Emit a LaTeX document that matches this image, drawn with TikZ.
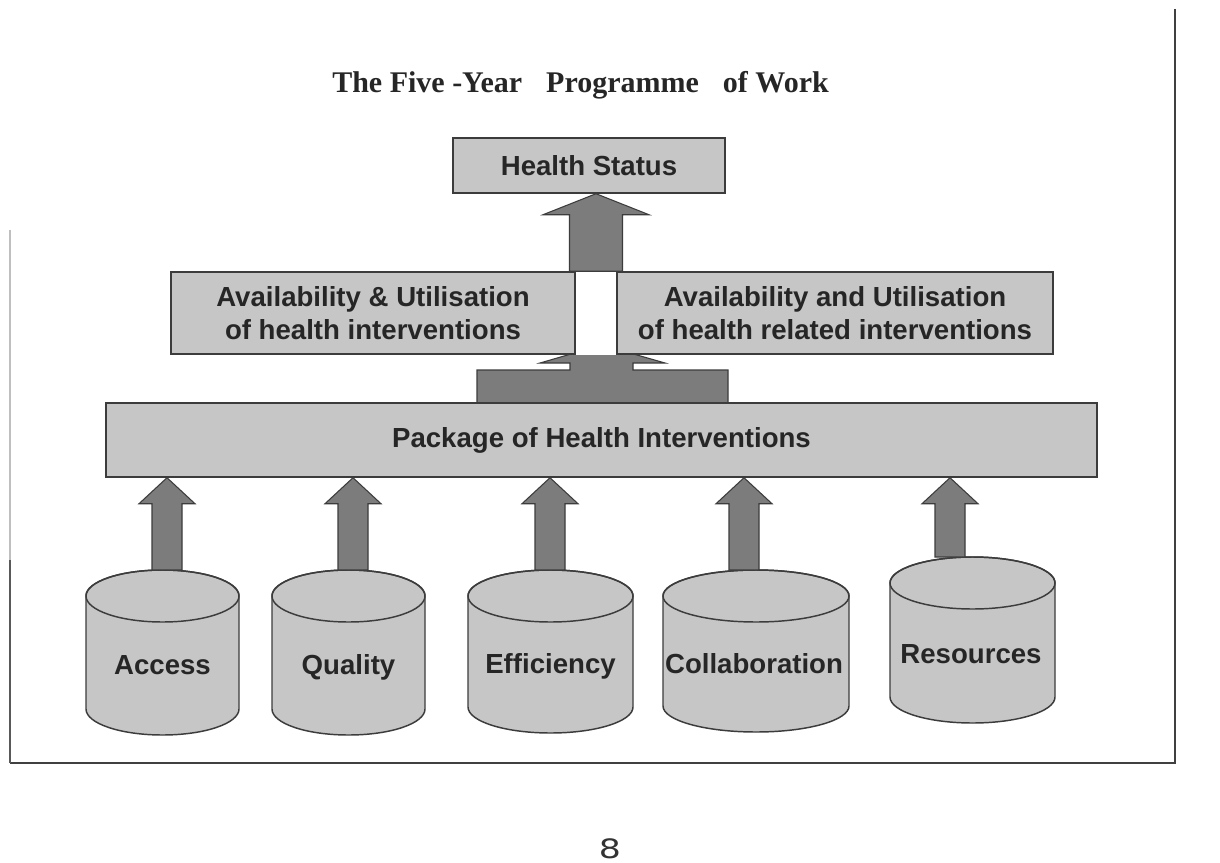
\documentclass[tikz,border=0pt]{standalone}
\usepackage{fontspec}
\setmainfont{Liberation Serif}
\newfontfamily\arialf{Liberation Sans}
\newfontfamily\dejavuf{DejaVu Sans}
\usetikzlibrary{calc}
\pgfdeclarelayer{bg}
\pgfsetlayers{bg,main}
\definecolor{boxc}{HTML}{C6C6C6}
\definecolor{arrc}{HTML}{7C7C7C}
\definecolor{edgec}{HTML}{3C3C3C}
\definecolor{txtc}{HTML}{262626}
% vertical block arrow: #1 bottom coord, #2 tip coord, #3 half shaft (px), #4 half head (px), #5 head length (px)
\newcommand\vblockarrow[5]{%
  \filldraw[arrowst] let \p1=(#1), \p2=(#2) in
    (\x1-#3*0.75pt,\y1) -- (\x1-#3*0.75pt,\y2-#5*0.75pt) -- (\x1-#4*0.75pt,\y2-#5*0.75pt)
    -- (\x1,\y2) -- (\x1+#4*0.75pt,\y2-#5*0.75pt) -- (\x1+#3*0.75pt,\y2-#5*0.75pt)
    -- (\x1+#3*0.75pt,\y1) -- cycle;}
% cylinder: #1 xl, #2 xr, #3 top ellipse centre y, #4 bottom ellipse centre y, #5 ry (px)
\newcommand\cylshape[5]{%
  \pgfmathsetmacro\cylrx{(#2-#1)/2*0.75}%
  \pgfmathsetmacro\cylry{#5*0.75}%
  \pgfmathsetmacro\cylcx{(#1+#2)/2}%
  \draw[cyl] (#1,#3) -- (#1,#4) arc[start angle=180,end angle=360,x radius=\cylrx pt,y radius=\cylry pt]
    -- (#2,#3) arc[start angle=0,end angle=180,x radius=\cylrx pt,y radius=\cylry pt] -- cycle;
  \draw[cyl,fill=none] (\cylcx,#3) ellipse[x radius=\cylrx pt,y radius=\cylry pt];}
\begin{document}
\begin{tikzpicture}[x=0.75pt,y=-0.75pt,
  box/.style={draw=edgec, fill=boxc, line width=1.1pt, inner sep=0pt, align=center, text=txtc,
    font=\arialf\bfseries\fontsize{20.7}{24.5}\selectfont},
  pxsize/.style 2 args={minimum width=#1*0.75pt, minimum height=#2*0.75pt},
  lbl/.style={text=txtc, inner sep=0pt, anchor=base, font=\arialf\bfseries\fontsize{20.7}{24}\selectfont},
  cyl/.style={draw=edgec, fill=boxc, line width=1.1pt},
  arrowst/.style={draw=edgec, fill=arrc, line width=0.8pt, line join=miter},
  framest/.style={draw=black!75, line width=1.2pt}]
\useasboundingbox (0,0) rectangle (1220,863);
\begin{pgfonlayer}{bg}
\fill[white] (0,0) rectangle (1220,863);
\end{pgfonlayer}

% frame of the page
\draw[framest] (1175,9) -- (1175,763) -- (10,763);
\draw[draw=black!25, line width=1pt] (10,230) -- (10,560);
\draw[draw=black!65, line width=1.1pt] (10,560) -- (10,763);

% title
\node[font=\bfseries\fontsize{22.5}{27}\selectfont, anchor=base, text=txtc, inner sep=0pt] (title) at (580.5,93)
  {The Five -Year\hspace{0.8em}Programme\hspace{0.8em}of Work};

% boxes
\node[box, pxsize={272}{55}] (hs) at (589,165.5) {Health Status};
\node[box, pxsize={404}{82}] (avl) at (373,313) {Availability \& Utilisation\\of health interventions};
\node[box, pxsize={436}{82}] (avr) at (835,313) {Availability and Utilisation\\of health related interventions};
\node[box, pxsize={991}{74}] (pkg) at (601.5,440) {Package of Health Interventions};

% big arrows behind boxes
\begin{pgfonlayer}{bg}
  \filldraw[arrowst] (477,404) -- (477,370) -- (570,370) -- (570,363) -- (540,363) -- (602,345)
    -- (665,363) -- (633,363) -- (633,370) -- (728,370) -- (728,404) -- cycle;
  \fill[white] (avl.north east) rectangle (avr.south west);
  \coordinate (upb) at ($(avl.north east)!0.5!(avr.north west)$);
  \vblockarrow{upb}{hs.south -| upb}{26.5}{53}{21}
\end{pgfonlayer}

% cylinders
\cylshape{86}{239}{596}{709}{26}
\cylshape{272}{425}{596}{709}{26}
\cylshape{468}{633}{596}{707}{26}
\cylshape{663}{849}{596}{706}{26}
\cylshape{890}{1055}{583}{697}{26}

\node[lbl] (acc) at (162.5,674) {Access};
\node[lbl] (qua) at (348.5,674) {Quality};
\node[lbl] (eff) at (550.5,673) {Efficiency};
\node[lbl] (col) at (754,673) {Collaboration};
\node[lbl] (res) at (971,663) {Resources};

% small arrows from cylinders to package
\coordinate (ta) at (167,570);
\coordinate (tq) at (353,570);
\coordinate (te) at (550,570);
\coordinate (tc) at (744,570);
\coordinate (tr) at (950,557);
\vblockarrow{ta}{pkg.south -| ta}{15}{28}{26}
\vblockarrow{tq}{pkg.south -| tq}{15}{28}{26}
\vblockarrow{te}{pkg.south -| te}{15}{28}{26}
\vblockarrow{tc}{pkg.south -| tc}{15}{28}{26}
\vblockarrow{tr}{pkg.south -| tr}{15}{28}{26}

% page number
\node[font=\dejavuf\fontsize{20}{24}\selectfont, text=black!80, inner sep=0pt] (pn) at (610,849) {\scalebox{1.3}[1]{8}};
\end{tikzpicture}
\end{document}
